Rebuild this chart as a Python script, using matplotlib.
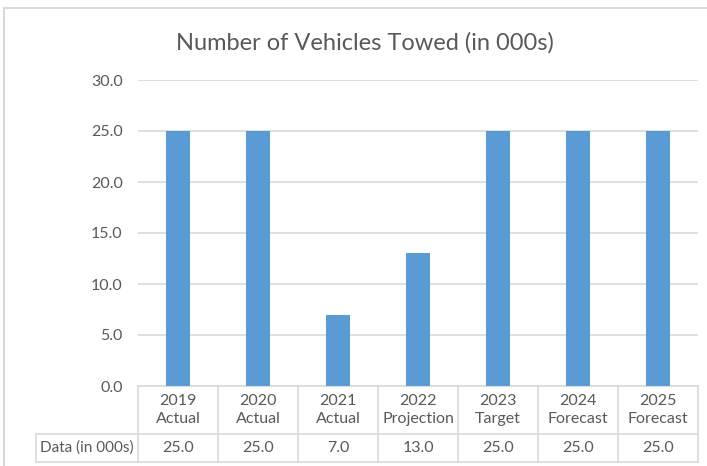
import matplotlib.pyplot as plt
from matplotlib.patches import Rectangle
from matplotlib.lines import Line2D

# data
years = ["2019", "2020", "2021", "2022", "2023", "2024", "2025"]
kinds = ["Actual", "Actual", "Actual", "Projection", "Target", "Forecast", "Forecast"]
towed = [25.0, 25.0, 7.0, 13.0, 25.0, 25.0, 25.0]
row_label = "Data (in 000s)"
title = "Number of Vehicles Towed (in 000s)"
yticks = [0, 5, 10, 15, 20, 25, 30]

plt.rcParams['font.family'] = ['Lato', 'DejaVu Sans']
text_color = '#595959'
grid_color = '#D9D9D9'
bar_color = '#5B9BD5'

W, H = 707, 466
fig = plt.figure(figsize=(W / 100, H / 100), dpi=100)

# outer chart border
fig.patches.append(Rectangle((4 / W, -0.1), 1.2, 1 - 8 / H + 0.1, transform=fig.transFigure,
                             fill=False, edgecolor=grid_color, linewidth=1.5))

# plot area in pixels
left, right, top, bottom = 138, 698, 80, 386
ax = fig.add_axes([left / W, 1 - bottom / H, (right - left) / W, (bottom - top) / H])

x = list(range(len(towed)))
ax.bar(x, towed, width=0.31, color=bar_color, zorder=3)
ax.set_xlim(-0.5, len(towed) - 0.5)
ax.set_ylim(0, 30)
ax.set_yticks(yticks)
ax.set_yticklabels([f"{v:.1f}" for v in yticks], fontsize=11.5, color=text_color)
ax.tick_params(axis='y', length=0, pad=11)
ax.set_xticks([])
for s in ax.spines.values():
    s.set_visible(False)
ax.grid(axis='y', color=grid_color, linewidth=1.2, zorder=0)

fig.text(365 / W, 1 - 43 / H, title, ha='center', va='center', fontsize=17, color=text_color)

# data table below the axis
px = (bottom - top)  # axis height in pixels
row1 = -(434 - bottom) / px
row2 = -(462 - bottom) / px
hdr_left = -0.5 - (left - 36) / ((right - left) / len(towed))
tr = ax.get_xaxis_transform()
lc = '#D9D9D9'
lw = 1.2

def hline(x0, x1, y):
    ax.add_line(Line2D([x0, x1], [y, y], transform=tr, color=lc, lw=lw, clip_on=False))

def vline(xv, y0, y1):
    ax.add_line(Line2D([xv, xv], [y0, y1], transform=tr, color=lc, lw=lw, clip_on=False))

hline(-0.5, len(towed) - 0.5, 0)
hline(hdr_left, len(towed) - 0.5, row1)
hline(hdr_left, len(towed) - 0.5, row2)
for i in range(len(towed) + 1):
    vline(i - 0.5, 0, row2)
vline(hdr_left, row1, row2)

for i, (yr, k, v) in enumerate(zip(years, kinds, towed)):
    ax.text(i, row1 / 2, f"{yr}\n{k}", transform=tr, ha='center', va='center',
            fontsize=11.5, color=text_color, linespacing=1.45)
    ax.text(i, (row1 + row2) / 2, f"{v:.1f}", transform=tr, ha='center', va='center',
            fontsize=11.5, color=text_color)
ax.text((hdr_left - 0.5) / 2, (row1 + row2) / 2, row_label, transform=tr, ha='center', va='center',
        fontsize=11, color=text_color)

fig.savefig("out.png", dpi=100)
